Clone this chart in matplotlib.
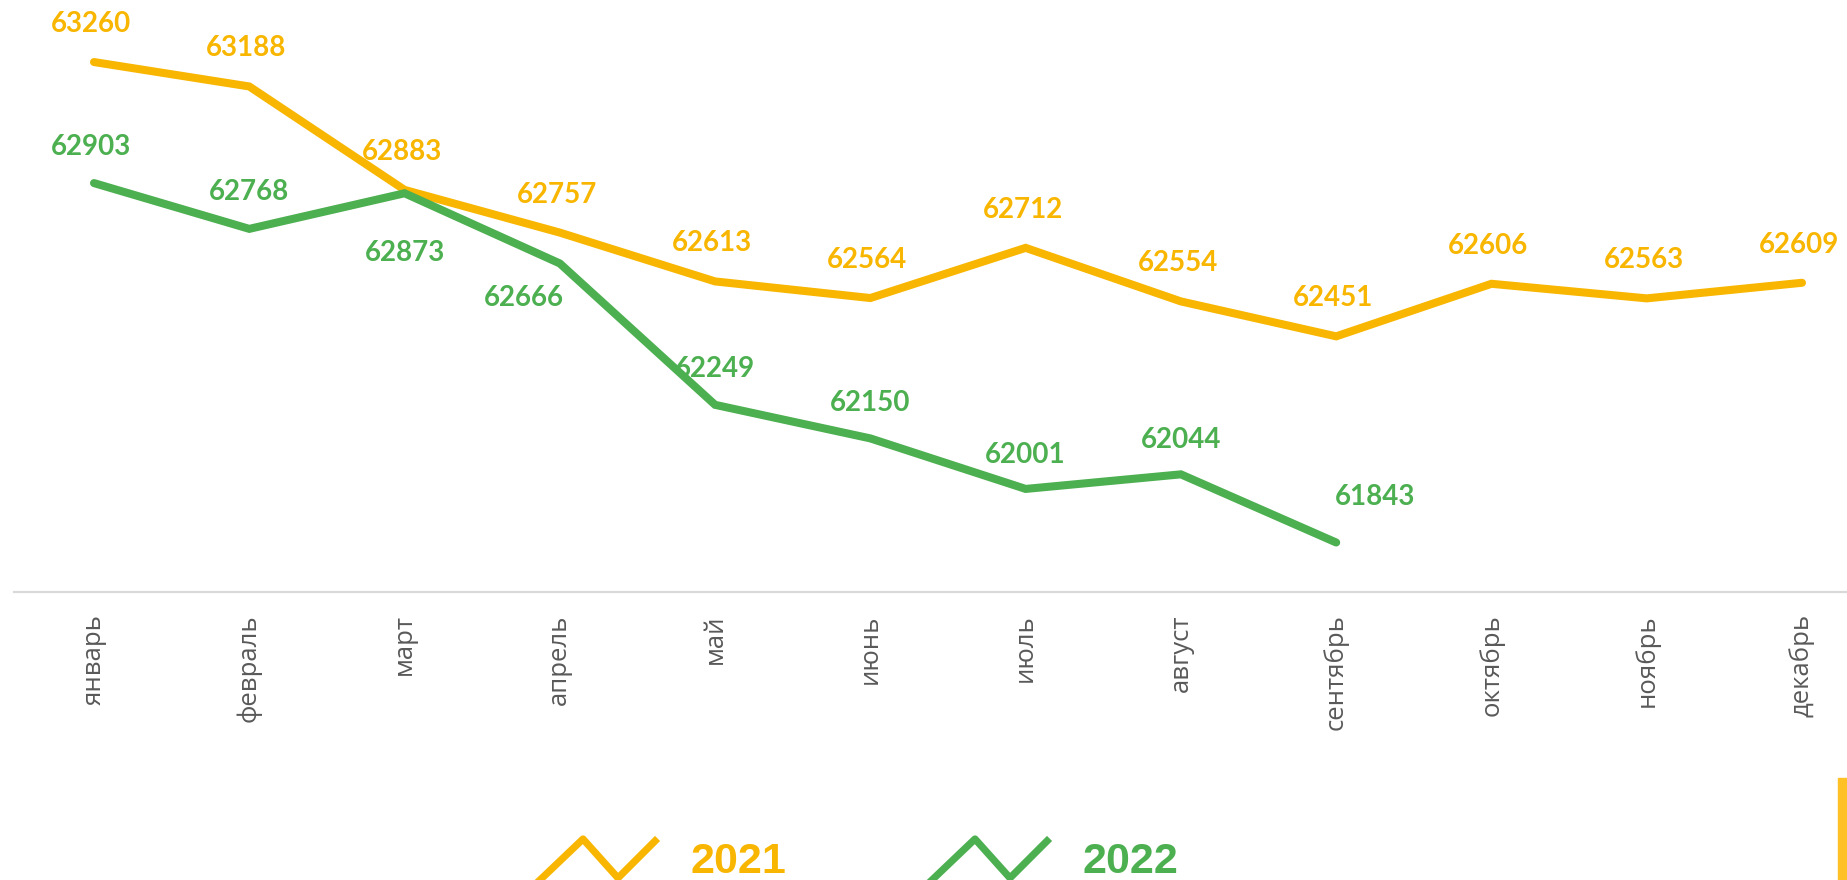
import matplotlib.pyplot as plt
from matplotlib import font_manager
from matplotlib.lines import Line2D
from matplotlib.patches import Rectangle

months = ["январь", "февраль", "март", "апрель", "май", "июнь",
          "июль", "август", "сентябрь", "октябрь", "ноябрь", "декабрь"]
y2021 = [63260, 63188, 62883, 62757, 62613, 62564, 62712, 62554, 62451, 62606, 62563, 62609]
y2022 = [62903, 62768, 62873, 62666, 62249, 62150, 62001, 62044, 61843]

# label offsets in pixels (dx, dy) relative to each point
off2021 = [(-3, 38)] * 12
off2022 = [(-3, 36), (0, 37), (0, -60), (-36, -35), (0, 36), (0, 35),
           (0, 34), (0, 34), (39, 45)]

YELLOW = "#F8B600"
GREEN = "#4CAF50"

W, H = 1847, 880
fig = plt.figure(figsize=(W / 100, H / 100), dpi=100)

# axes: left edge at 14px, axis line at y=592px, top at 0
ax = fig.add_axes([14 / W, (H - 592) / H, (W - 14) / W, 592 / H])
step = (1802 - 94) / 11
ax.set_xlim(-80 / step, 11 + 45 / step)
ax.set_ylim(61697, 63443)

x = list(range(12))
ax.plot(x, y2021, color=YELLOW, lw=5.8, solid_capstyle="round", solid_joinstyle="miter", zorder=3)
ax.plot(x[:len(y2022)], y2022, color=GREEN, lw=5.8, solid_capstyle="round", solid_joinstyle="miter", zorder=3)

lab_font = dict(family=["Lato", "DejaVu Sans"], fontsize=20, fontweight="bold",
                ha="center", va="center")
for i, v in enumerate(y2021):
    ax.annotate(str(v), (i, v), xytext=off2021[i], textcoords="offset pixels",
                color=YELLOW, **lab_font)
for i, v in enumerate(y2022):
    ax.annotate(str(v), (i, v), xytext=off2022[i], textcoords="offset pixels",
                color=GREEN, **lab_font)

for s in ["top", "left", "right"]:
    ax.spines[s].set_visible(False)
ax.spines["bottom"].set_color("#D9D9D9")
ax.spines["bottom"].set_linewidth(1.6)
ax.set_yticks([])
ax.set_xticks(x)
ax.set_xticklabels(months, rotation=90, color="#595959", fontsize=18.5,
                   family=["Open Sans", "DejaVu Sans"], va="top")
ax.tick_params(axis="x", length=0, pad=16)

# legend drawn by hand at the bottom
names = {f.name for f in font_manager.fontManager.ttflist}
if "Liberation Sans Narrow" in names:
    leg_family, leg_size = "Liberation Sans Narrow", 34
else:
    leg_family, leg_size = "Liberation Sans", 31


def fig_xy(px, py):
    return px / W, 1 - py / H


for (x0, col, label) in [(543, YELLOW, "2021"), (935, GREEN, "2022")]:
    pts = [(x0 - 3, 880), (x0 + 40, 839), (x0 + 75, 878), (x0 + 112, 841)]
    xs, ys = zip(*[fig_xy(px, py) for px, py in pts])
    fig.add_artist(Line2D(xs, ys, color=col, lw=5.2, transform=fig.transFigure))
    tx, ty = fig_xy(x0 + 148, 873)
    fig.text(tx, ty, label, color=col, fontsize=leg_size, fontweight="bold",
             family=[leg_family, "DejaVu Sans"], ha="left", va="baseline")

# yellow bar at the bottom right corner
fig.add_artist(Rectangle((1838 / W, 0), 9 / W, 102 / H, color="#FFC125",
                         transform=fig.transFigure))

plt.savefig("out.png", dpi=100)
